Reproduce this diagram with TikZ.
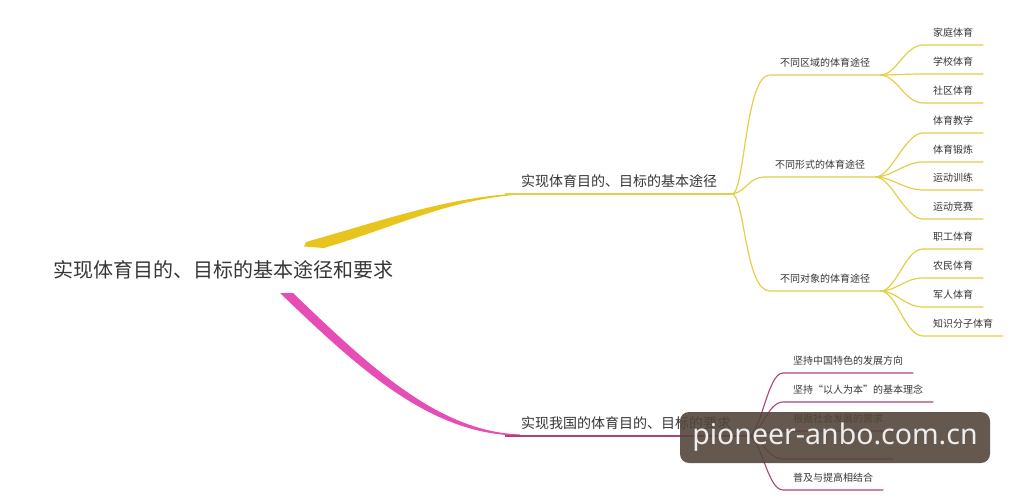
\documentclass[tikz,border=0pt]{standalone}
\usepackage{fontspec}
\setmainfont{Noto Sans CJK SC}
\newfontfamily\wmfont{Noto Sans}
\usepackage{xcolor}
\usepackage{tikz}
\usetikzlibrary{positioning}

\definecolor{ybold}{HTML}{E8C51E}
\definecolor{yline}{HTML}{E0D04A}
\definecolor{pbold}{HTML}{E64DB5}
\definecolor{pline}{HTML}{B0407A}
\definecolor{txt}{HTML}{363636}
\definecolor{wmark}{HTML}{54463B}

\begin{document}
\begin{tikzpicture}[
        x=1pt, y=-1pt,
        root/.style={font=\fontsize{20}{24}\selectfont, text=txt},
        main/.style={anchor=south west, inner xsep=16pt, inner ysep=7pt, text depth=0pt, font=\fontsize{14}{16}\selectfont, text=txt},
        sub/.style={anchor=south west, inner xsep=10pt, inner ysep=8pt, text depth=0pt, font=\fontsize{10}{12}\selectfont, text=txt},
        yl/.style={draw=yline, line width=1.2pt},
        pl/.style={draw=pline, line width=1.1pt},
        wm/.style={fill=wmark, fill opacity=0.9, text opacity=1, text=white!93!black, rounded corners=9pt, minimum width=310pt, minimum height=51pt, font=\wmfont\fontsize{28.5}{30}\selectfont}
    ]
        \useasboundingbox (0,0) rectangle (1026,500);

        % Nodes
        \node[root] (topic) at (223,270) {实现体育目的、目标的基本途径和要求};
        \coordinate (ystart) at (306,242);
        \coordinate (pstart) at (280,293);

        \node[main] (way) at (505,194) {实现体育目的、目标的基本途径};
        \node[sub] (region) at (770,75) {不同区域的体育途径};
        \node[sub] (form) at (765,177) {不同形式的体育途径};
        \node[sub] (target) at (770,291) {不同对象的体育途径};

        \node[sub] (family) at (923,45) {家庭体育};
        \node[sub] (school) at (923,74) {学校体育};
        \node[sub] (community) at (923,103) {社区体育};
        \node[sub] (teaching) at (923,133) {体育教学};
        \node[sub] (exercise) at (923,162) {体育锻炼};
        \node[sub] (training) at (923,190) {运动训练};
        \node[sub] (contest) at (923,219) {运动竞赛};
        \node[sub] (worker) at (923,249) {职工体育};
        \node[sub] (farmer) at (923,278) {农民体育};
        \node[sub] (soldier) at (923,307) {军人体育};
        \node[sub] (scholar) at (923,336) {知识分子体育};

        \node[main] (req) at (505,436) {实现我国的体育目的、目标的要求};
        \node[sub] (china) at (783,373) {坚持中国特色的发展方向};
        \node[sub] (people) at (783,402) {坚持“以人为本”的基本理念};
        \node[sub] (society) at (783,431) {根据社会发展的需求};
        \node[sub, minimum width=110pt] (hidden) at (783,459) {};
        \node[sub] (spread) at (783,490) {普及与提高相结合};

        % Thick branches
        \fill[ybold] (ystart) .. controls (390,218) and (450,197) .. (520,193.4)
            -- (520,194.6) .. controls (450,199) and (395,227) .. (324,248) -- (304,246.5) -- cycle;
        \fill[pbold] (pstart) -- (293,293) .. controls (368,365) and (438,432) .. (520,434.4)
            -- (520,435.6) .. controls (432,435) and (362,372) .. (pstart) -- cycle;

        % Yellow lines
        \draw[yl] (way.south west) -- (way.south east);
        \draw[yl] (way.south east) .. controls +(12,-12) and +(-24,0) .. (region.south west) -- (region.south east);
        \draw[yl] (way.south east) .. controls +(14,-4) and +(-16,0) .. (form.south west) -- (form.south east);
        \draw[yl] (way.south east) .. controls +(12,12) and +(-24,0) .. (target.south west) -- (target.south east);

        \draw[yl] (region.south east) .. controls +(16,0) and +(-18,0) .. (family.south west) -- (family.south east);
        \draw[yl] (region.south east) .. controls +(16,0) and +(-18,0) .. (school.south west) -- (school.south east);
        \draw[yl] (region.south east) .. controls +(16,0) and +(-18,0) .. (community.south west) -- (community.south east);

        \draw[yl] (form.south east) .. controls +(16,0) and +(-18,0) .. (teaching.south west) -- (teaching.south east);
        \draw[yl] (form.south east) .. controls +(16,0) and +(-18,0) .. (exercise.south west) -- (exercise.south east);
        \draw[yl] (form.south east) .. controls +(16,0) and +(-18,0) .. (training.south west) -- (training.south east);
        \draw[yl] (form.south east) .. controls +(16,0) and +(-18,0) .. (contest.south west) -- (contest.south east);

        \draw[yl] (target.south east) .. controls +(16,0) and +(-18,0) .. (worker.south west) -- (worker.south east);
        \draw[yl] (target.south east) .. controls +(16,0) and +(-18,0) .. (farmer.south west) -- (farmer.south east);
        \draw[yl] (target.south east) .. controls +(16,0) and +(-18,0) .. (soldier.south west) -- (soldier.south east);
        \draw[yl] (target.south east) .. controls +(16,0) and +(-18,0) .. (scholar.south west) -- (scholar.south east);

        % Pink lines
        \draw[pl] (req.south west) -- (req.south east);
        \draw[pl] (req.south east) .. controls +(14,0) and +(-16,0) .. (china.south west) -- (china.south east);
        \draw[pl] (req.south east) .. controls +(14,0) and +(-16,0) .. (people.south west) -- (people.south east);
        \draw[pl] (req.south east) .. controls +(14,0) and +(-16,0) .. (society.south west) -- (society.south east);
        \draw[pl] (req.south east) .. controls +(14,0) and +(-16,0) .. (hidden.south west) -- (hidden.south east);
        \draw[pl] (req.south east) .. controls +(14,0) and +(-16,0) .. (spread.south west) -- (spread.south east);

        % Watermark
        \node[wm] (mark) at (835,437.5) {pioneer-anbo.com.cn};
    \end{tikzpicture}
\end{document}
